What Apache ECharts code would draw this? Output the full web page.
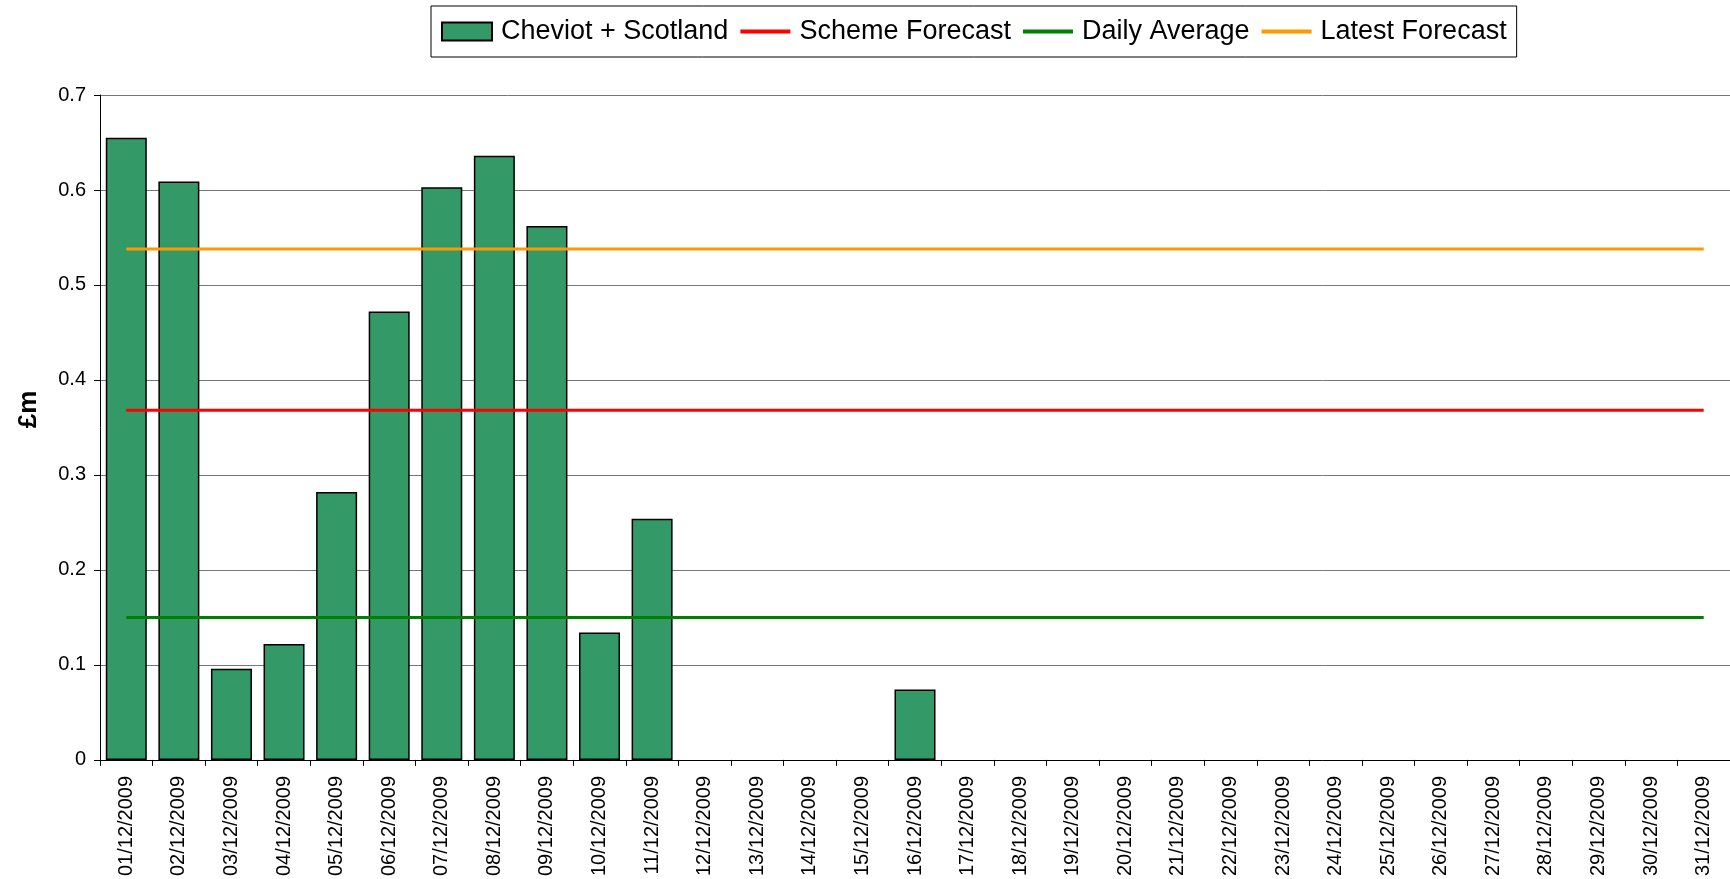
<!DOCTYPE html>
<html>
<head>
<meta charset="utf-8">
<script src="https://cdn.jsdelivr.net/npm/echarts@6/dist/echarts.min.js"></script>
<style>
  html, body { margin: 0; padding: 0; background: #fff; }
  #chart { width: 1730px; height: 879px; }
</style>
</head>
<body>
<div id="chart"></div>
<script>
// days of December 2009
var days = [];
for (var d = 1; d <= 31; d++) {
  days.push((d < 10 ? "0" + d : "" + d) + "/12/2009");
}

// null = nothing drawn for that day
var cheviot = [0.655, 0.609, 0.096, 0.122, 0.282, 0.472, 0.603, 0.636, 0.562, 0.134, 0.254,
  null, null, null, null, 0.074, null, null, null, null, null, null, null, null, null, null,
  null, null, null, null, null];
var schemeForecast = 0.368;
var dailyAverage = 0.15;
var latestForecast = 0.538;

function flat(v) {
  return days.map(function () { return v; });
}

// thin bar in the middle of a 50x18 box, for the line entries of the legend
var lineIcon = "path://M0,0 M50,18 M0,7 L50,7 L50,11 L0,11 Z";

var chart = echarts.init(document.getElementById("chart"));

var option = {
  animation: false,
  textStyle: { fontFamily: "Liberation Sans, Arial, sans-serif", color: "#000" },
  legend: {
    top: 6,
    left: 431,
    borderColor: "#000",
    borderWidth: 1,
    padding: [12, 10],
    itemGap: 12,
    itemWidth: 50,
    itemHeight: 18,
    textStyle: { fontSize: 27, color: "#000", padding: [0, 0, 0, 4] },
    data: [
      { name: "Cheviot + Scotland", icon: "rect" },
      { name: "Scheme Forecast", icon: lineIcon },
      { name: "Daily Average", icon: lineIcon },
      { name: "Latest Forecast", icon: lineIcon }
    ]
  },
  grid: { left: 100, right: 0, top: 95, bottom: 119 },
  xAxis: {
    type: "category",
    data: days,
    axisLine: { lineStyle: { color: "#000", width: 1 } },
    axisTick: { show: true, length: 6, lineStyle: { color: "#000" } },
    axisLabel: { rotate: 90, fontSize: 20, color: "#000", margin: 16 }
  },
  yAxis: {
    type: "value",
    min: 0,
    max: 0.7,
    interval: 0.1,
    name: "£m",
    nameLocation: "middle",
    nameGap: 58,
    nameTextStyle: { fontSize: 26, fontWeight: "bold", color: "#000", padding: [0, 0, 0, 36] },
    axisLine: { show: true, lineStyle: { color: "#000", width: 1 } },
    axisTick: { show: true, length: 6, lineStyle: { color: "#000" } },
    axisLabel: { fontSize: 20, color: "#000", margin: 14 },
    splitLine: { lineStyle: { color: "#777", width: 1 } }
  },
  series: [
    {
      name: "Cheviot + Scotland",
      type: "bar",
      data: cheviot,
      barCategoryGap: "22%",
      itemStyle: { color: "#339966", borderColor: "#000", borderWidth: 1.5 }
    },
    {
      name: "Scheme Forecast",
      type: "line",
      data: flat(schemeForecast),
      symbol: "none",
      itemStyle: { color: "#ff0000" },
      lineStyle: { color: "#ff0000", width: 3 }
    },
    {
      name: "Daily Average",
      type: "line",
      data: flat(dailyAverage),
      symbol: "none",
      itemStyle: { color: "#008000" },
      lineStyle: { color: "#008000", width: 3 }
    },
    {
      name: "Latest Forecast",
      type: "line",
      data: flat(latestForecast),
      symbol: "none",
      itemStyle: { color: "#ff9900" },
      lineStyle: { color: "#ff9900", width: 3 }
    }
  ]
};

chart.setOption(option);
</script>
</body>
</html>
